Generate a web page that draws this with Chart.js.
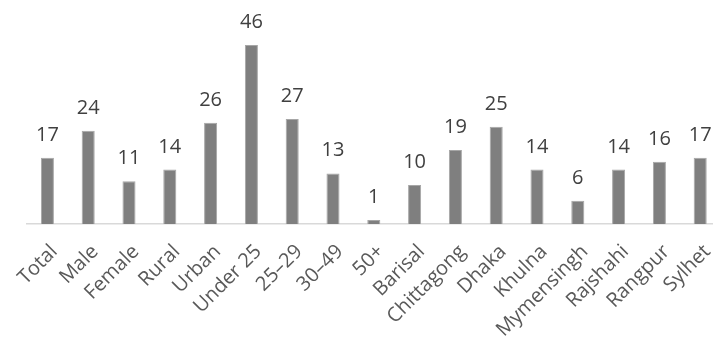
<!DOCTYPE html>
<html>
<head>
<meta charset="utf-8">
<script src="https://cdn.jsdelivr.net/npm/chart.js@4"></script>
<style>
html,body{margin:0;padding:0;background:#fff;overflow:hidden;}
#wrap{width:713px;height:343px;position:relative;overflow:hidden;}
#c{display:block;}
</style>
</head>
<body>
<div id="wrap"><canvas id="c" width="721" height="343"></canvas></div>
<script>
const categories = ["Total","Male","Female","Rural","Urban","Under 25","25\u201329","30\u201349","50+","Barisal","Chittagong","Dhaka","Khulna","Mymensingh","Rajshahi","Rangpur","Sylhet"];
const values = [17,24,11,14,26,46,27,13,1,10,19,25,14,6,14,16,17];
const yMax = 50;

const labelPlugin = {
  id: 'valueLabels',
  afterDatasetsDraw(chart) {
    const ctx = chart.ctx;
    const meta = chart.getDatasetMeta(0);
    ctx.save();
    ctx.font = '20px "Open Sans", "DejaVu Sans", sans-serif';
    ctx.fillStyle = '#404040';
    ctx.textAlign = 'center';
    ctx.textBaseline = 'alphabetic';
    meta.data.forEach((bar, i) => {
      ctx.fillText(String(values[i]), bar.x, bar.y - 17);
    });
    ctx.restore();
  }
};

new Chart(document.getElementById('c'), {
  type: 'bar',
  data: {
    labels: categories,
    datasets: [{
      data: values,
      backgroundColor: '#7f7f7f',
      borderColor: '#a6a6a6',
      borderWidth: {left:1,right:1,top:1,bottom:0},
      barPercentage: 0.32,
      categoryPercentage: 1
    }]
  },
  options: {
    responsive: false,
    animation: false,
    layout: { padding: { top: 29.5, left: 27, right: 0.4, bottom: 0 } },
    plugins: { legend: { display: false }, tooltip: { enabled: false } },
    scales: {
      y: { display: false, min: 0, max: yMax },
      x: {
        grid: { display: false, drawTicks: false },
        border: { display: true, color: '#d9d9d9', width: 1.5 },
        afterFit(scale) { scale.height = 119; scale.paddingLeft = 0; scale.paddingRight = 0; },
        ticks: {
          color: '#595959',
          font: { family: '"Open Sans", "DejaVu Sans", sans-serif', size: 20 },
          minRotation: 45, maxRotation: 45,
          autoSkip: false,
          labelOffset: 7,
          padding: 16
        }
      }
    }
  },
  plugins: [labelPlugin]
});
</script>
</body>
</html>
